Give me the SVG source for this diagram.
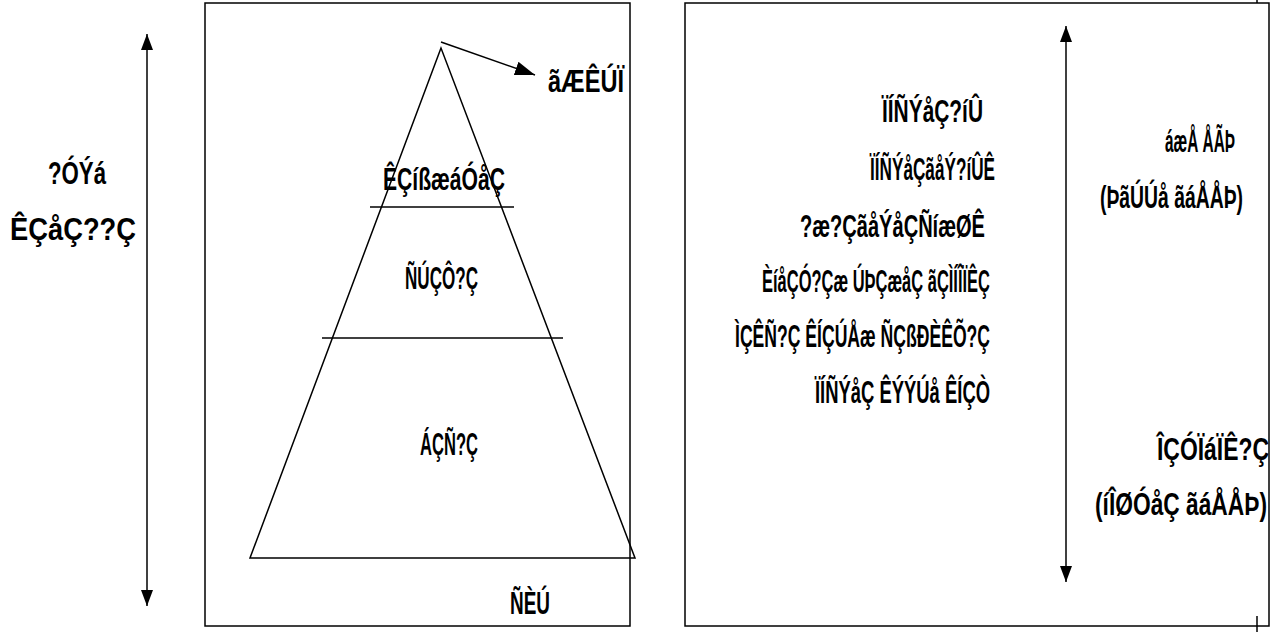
<svg xmlns="http://www.w3.org/2000/svg" width="1277" height="632" viewBox="0 0 1277 632">
<style>
.frame{fill:none;stroke:#000;stroke-width:1.5}
.ln{fill:none;stroke:#000;stroke-width:1.5}
.t{font-family:"Liberation Sans Narrow","Liberation Sans",Arial,sans-serif;font-size:32px;font-weight:bold;fill:#000}
</style>
<defs>
<marker id="ahb" viewBox="0 0 16 12" refX="16" refY="6" markerWidth="16" markerHeight="12" markerUnits="userSpaceOnUse" orient="auto-start-reverse">
<path d="M0,0 L16,6 L0,12 Z" fill="#000"/>
</marker>
<marker id="ahc" viewBox="0 0 20 14" refX="20" refY="7" markerWidth="20" markerHeight="14" markerUnits="userSpaceOnUse" orient="auto">
<path d="M0,0 L20,7 L0,14 Z" fill="#000"/>
</marker>
</defs>
<rect width="1277" height="632" fill="#fff"/>
<g id="left-panel"><rect class="frame" x="205" y="3" width="425" height="623"/></g>
<g id="right-panel"><rect class="frame" x="685" y="3" width="584" height="623"/>
<line class="ln" x1="1257" y1="0" x2="1257" y2="3"/><line class="ln" x1="1257" y1="616" x2="1257" y2="632"/></g>
<g id="pyramid">
<polygon class="ln" points="441,48 250,558 635,558"/>
<line class="ln" x1="370" y1="207" x2="514" y2="207"/>
<line class="ln" x1="322" y1="338" x2="563" y2="338"/>
</g>
<g id="connectors">
<line class="ln" x1="147" y1="34" x2="147" y2="606" marker-start="url(#ahb)" marker-end="url(#ahb)"/>
<line class="ln" x1="441" y1="42" x2="535" y2="75" marker-end="url(#ahc)"/>
<line class="ln" x1="1066" y1="26" x2="1066" y2="582" marker-start="url(#ahb)" marker-end="url(#ahb)"/>
</g>
<g id="label-left-1"><text class="t" x="48" y="184" textLength="58" lengthAdjust="spacingAndGlyphs">?ÓÝá</text></g>
<g id="label-left-2"><text class="t" x="10" y="240" textLength="126" lengthAdjust="spacingAndGlyphs">ÊÇåÇ??Ç</text></g>
<g id="label-top"><text class="t" x="548" y="92" textLength="76" lengthAdjust="spacingAndGlyphs">ãÆÊÚÏ</text></g>
<g id="level-1"><text class="t" x="383" y="190" textLength="122" lengthAdjust="spacingAndGlyphs">ÊÇíßæáÓåÇ</text></g>
<g id="level-2"><text class="t" x="405" y="289" textLength="73" lengthAdjust="spacingAndGlyphs">ÑÚÇÔ?Ç</text></g>
<g id="level-3"><text class="t" x="420" y="455" textLength="58" lengthAdjust="spacingAndGlyphs">ÁÇÑ?Ç</text></g>
<g id="label-bottom"><text class="t" x="510" y="614" textLength="40" lengthAdjust="spacingAndGlyphs">ÑÈÚ</text></g>
<g id="list-1"><text class="t" x="882" y="122" textLength="101" lengthAdjust="spacingAndGlyphs">ÏÍÑÝåÇ?íÛ</text></g>
<g id="list-2"><text class="t" x="870" y="180" textLength="125" lengthAdjust="spacingAndGlyphs">ÏÍÑÝåÇãåÝ?íÛÊ</text></g>
<g id="list-3"><text class="t" x="800" y="237" textLength="185" lengthAdjust="spacingAndGlyphs">?æ?ÇãåÝåÇÑíæØÊ</text></g>
<g id="list-4"><text class="t" x="762" y="292" textLength="228" lengthAdjust="spacingAndGlyphs">ÈíåÇÓ?Çæ ÚÞÇæåÇ ãÇÌÍÎÏÊÇ</text></g>
<g id="list-5"><text class="t" x="735" y="347" textLength="255" lengthAdjust="spacingAndGlyphs">ÌÇÊÑ?Ç ÊÍÇÚÅæ ÑÇßÐÈÊÕ?Ç</text></g>
<g id="list-6"><text class="t" x="815" y="403" textLength="175" lengthAdjust="spacingAndGlyphs">ÏÍÑÝåÇ ÊÝÝÚå ÊÍÇÒ</text></g>
<g id="right-top-1"><text class="t" x="1165" y="152" textLength="70" lengthAdjust="spacingAndGlyphs">áæÅ ÅÃÞ</text></g>
<g id="right-top-2"><text class="t" x="1100" y="208" textLength="143" lengthAdjust="spacingAndGlyphs">(ÞãÚÚå ãáÅÅÞ)</text></g>
<g id="right-bottom-1"><text class="t" x="1157" y="460" textLength="112" lengthAdjust="spacingAndGlyphs">ÎÇÓÏáÏÊ?Ç</text></g>
<g id="right-bottom-2"><text class="t" x="1095" y="515" textLength="172" lengthAdjust="spacingAndGlyphs">(íÎØÓåÇ ãáÅÅÞ)</text></g>
</svg>
